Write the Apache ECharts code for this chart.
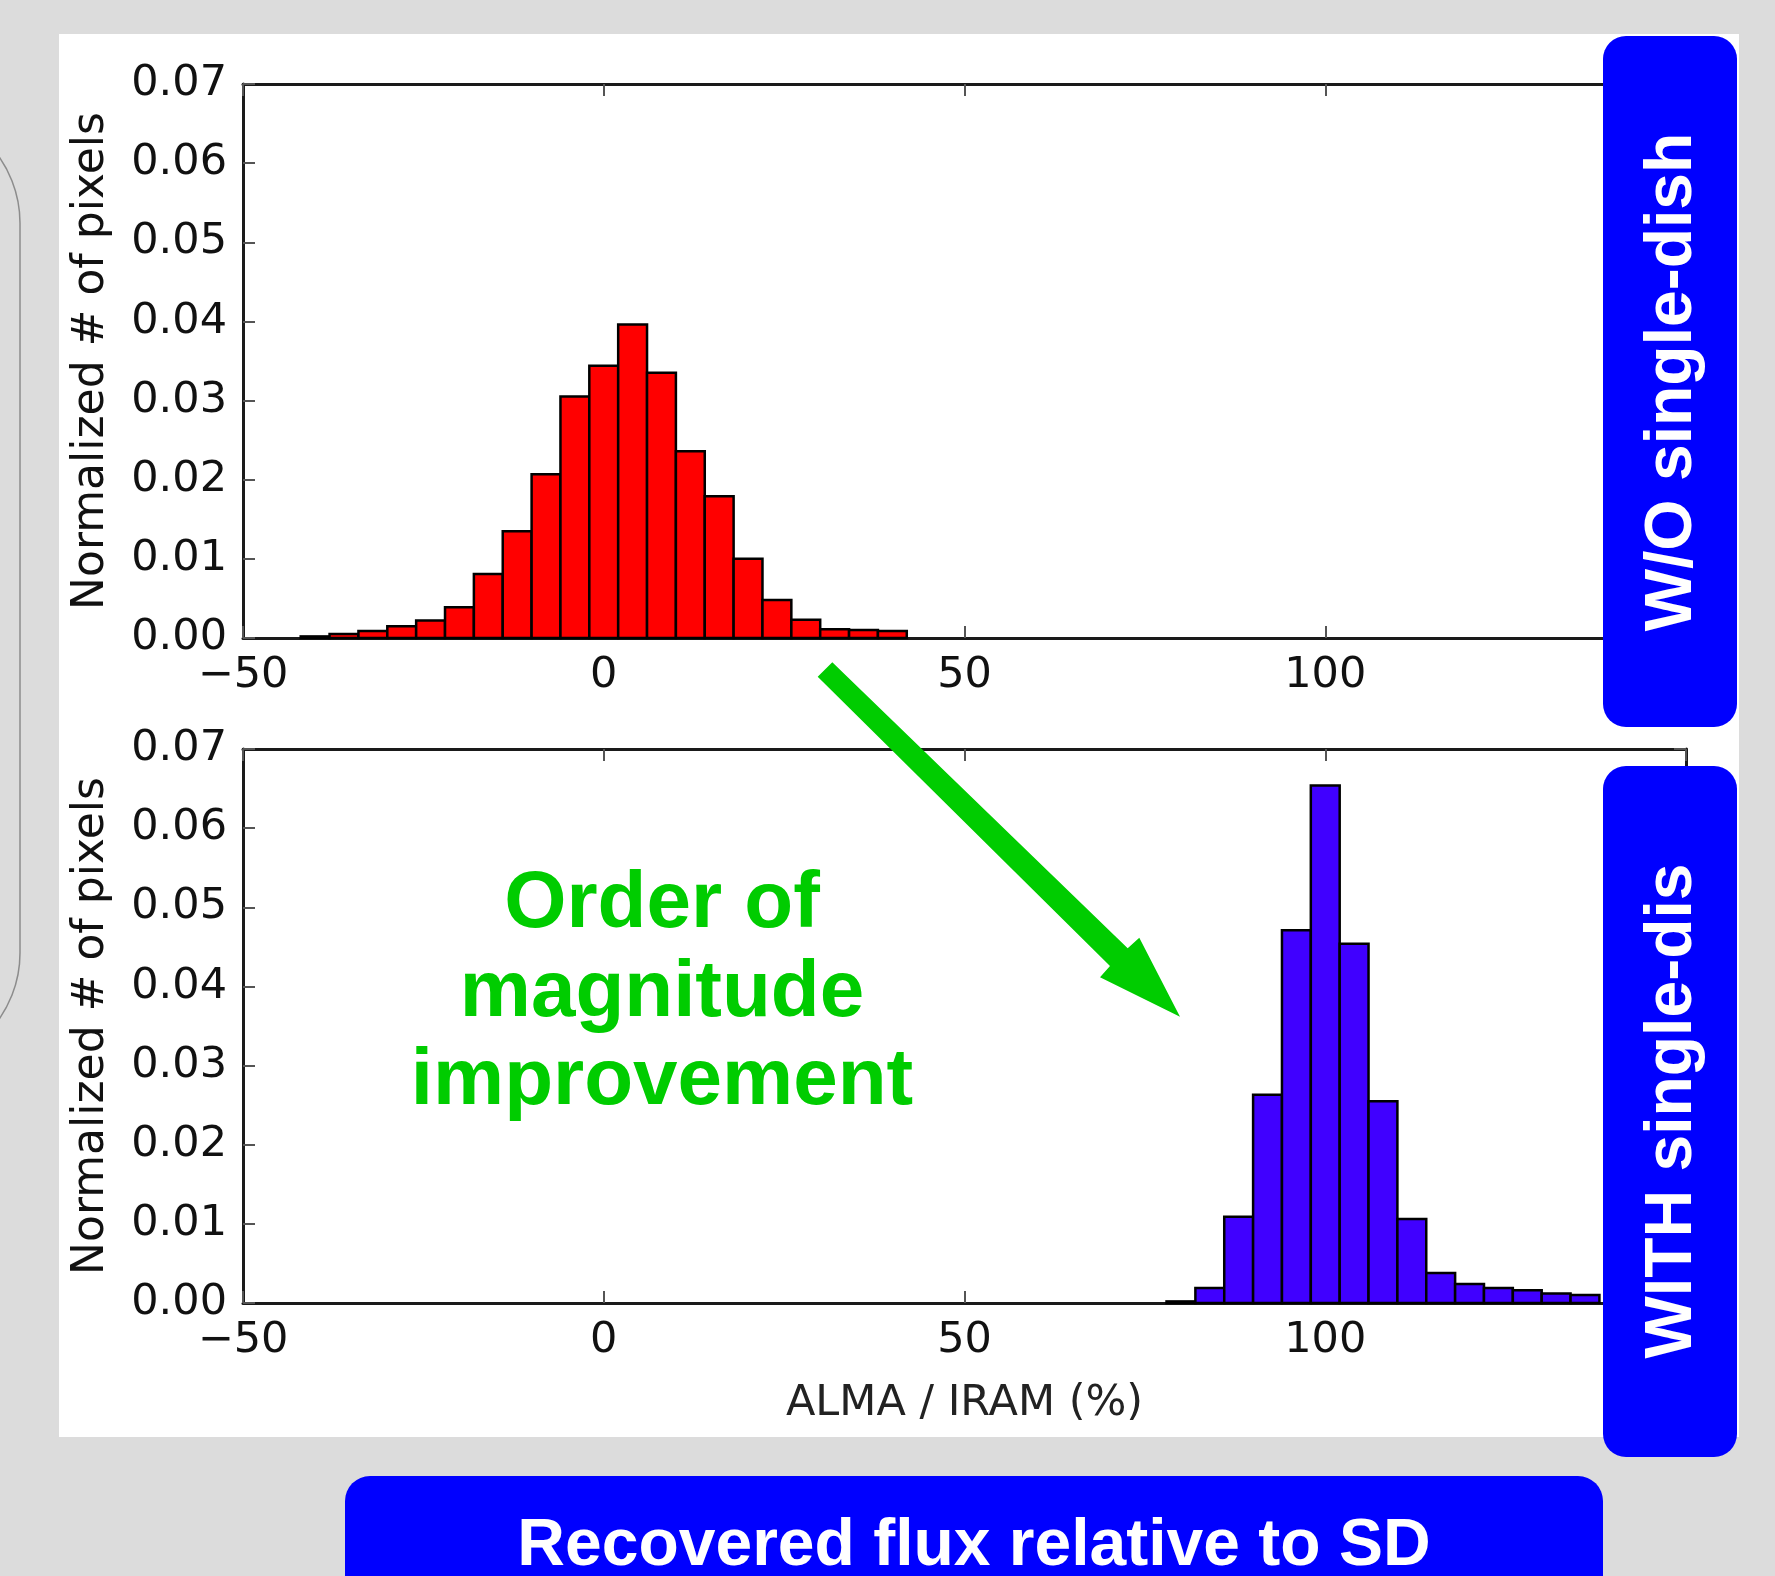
<!DOCTYPE html>
<html>
<head>
<meta charset="utf-8">
<title>Recovered flux relative to SD</title>
<script src="https://cdn.jsdelivr.net/npm/echarts@6/dist/echarts.min.js"></script>
<style>
  html, body { margin: 0; padding: 0; background: #dcdcdc; }
  #main { width: 1775px; height: 1576px; }
</style>
</head>
<body>
<div id="main"></div>
<script>
// histogram bins (bin centres, % ) and normalized counts
var binWidth = 4;
var woCenters = [-40, -36, -32, -28, -24, -20, -16, -12, -8, -4, 0, 4, 8, 12, 16, 20, 24, 28, 32, 36, 40];
var woValues = [0.0002, 0.0005, 0.0009, 0.0015, 0.0022, 0.0039, 0.0081, 0.0135, 0.0207, 0.0305, 0.0344,
                0.0396, 0.0335, 0.0236, 0.0179, 0.0100, 0.0048, 0.0023, 0.0011, 0.0010, 0.0009];
var withCenters = [80, 84, 88, 92, 96, 100, 104, 108, 112, 116, 120, 124, 128, 132, 136];
var withValues = [0.0002, 0.0019, 0.0109, 0.0263, 0.0471, 0.0654, 0.0454, 0.0255, 0.0106,
                  0.0038, 0.0024, 0.0019, 0.0016, 0.0012, 0.0010];

var xTicks = [-50, 0, 50, 100, 150];
var yTicks = [0, 0.01, 0.02, 0.03, 0.04, 0.05, 0.06, 0.07];

var yName = 'Normalized # of pixels';
var xName = 'ALMA / IRAM (%)';
var boxTop = 'W/O single-dish';
var boxBottom = 'WITH single-dis';
var banner = 'Recovered flux relative to SD';
var note = ['Order of', 'magnitude', 'improvement'];

function zip(a, b) {
    var out = [];
    for (var i = 0; i < a.length; i++) out.push([a[i], b[i]]);
    return out;
}

var myChart = echarts.init(document.getElementById('main'));

var tickFont = { fontFamily: 'DejaVu Sans', fontSize: 43, color: '#111' };
var frameLine = { show: true, onZero: false, lineStyle: { color: '#1a1a1a', width: 3 } };
var innerTick = { show: true, inside: true, length: 12, lineStyle: { color: '#555', width: 2 } };

function xAxisPair(gridIndex, withName) {
    var bottom = {
        type: 'value', gridIndex: gridIndex, position: 'bottom',
        min: xTicks[0], max: xTicks[xTicks.length - 1], interval: 50,
        axisLine: frameLine, axisTick: innerTick, splitLine: { show: false },
        axisLabel: {
            margin: 16, fontFamily: tickFont.fontFamily, fontSize: tickFont.fontSize, color: tickFont.color,
            formatter: function (v) {
                if (v >= 150) return '';
                return v < 0 ? '\u2212' + Math.abs(v) : String(v);
            }
        }
    };
    if (withName) {
        bottom.name = xName;
        bottom.nameLocation = 'middle';
        bottom.nameGap = 79;
        bottom.nameTextStyle = { fontFamily: 'DejaVu Sans', fontSize: 43, color: '#222' };
    }
    var top = {
        type: 'value', gridIndex: gridIndex, position: 'top',
        min: xTicks[0], max: xTicks[xTicks.length - 1], interval: 50,
        axisLine: frameLine, axisTick: innerTick, splitLine: { show: false },
        axisLabel: { show: false }
    };
    return [bottom, top];
}

function yAxisPair(gridIndex) {
    var left = {
        type: 'value', gridIndex: gridIndex, position: 'left',
        min: 0, max: yTicks[yTicks.length - 1], interval: 0.01,
        name: yName, nameLocation: 'middle', nameGap: 129,
        nameTextStyle: { fontFamily: 'DejaVu Sans', fontSize: 44, color: '#111' },
        axisLine: frameLine, axisTick: innerTick, splitLine: { show: false },
        axisLabel: {
            margin: 16, fontFamily: tickFont.fontFamily, fontSize: tickFont.fontSize, color: tickFont.color,
            formatter: function (v) { return v.toFixed(2); }
        }
    };
    var right = {
        type: 'value', gridIndex: gridIndex, position: 'right',
        min: 0, max: yTicks[yTicks.length - 1], interval: 0.01,
        axisLine: frameLine, axisTick: innerTick, splitLine: { show: false },
        axisLabel: { show: false }
    };
    return [left, right];
}

function histRender(fill) {
    return function (params, api) {
        var c = api.value(0);
        var v = api.value(1);
        var p0 = api.coord([c - binWidth / 2, v]);
        var p1 = api.coord([c + binWidth / 2, 0]);
        return {
            type: 'rect',
            shape: { x: p0[0], y: p0[1], width: p1[0] - p0[0], height: p1[1] - p0[1] },
            style: { fill: fill, stroke: '#000', lineWidth: 2.5 }
        };
    };
}

var xs = xAxisPair(0, false).concat(xAxisPair(1, true));
var ys = yAxisPair(0).concat(yAxisPair(1));

var boldFont = 'bold 66px "Liberation Sans", Arial, sans-serif';
var greenFont = 'bold 80px "Liberation Sans", Arial, sans-serif';

var option = {
    backgroundColor: '#ffffff',
    animation: false,
    grid: [
        { left: 243, top: 84, width: 1443, height: 554, outerBoundsMode: 'none' },
        { left: 243, top: 749, width: 1443, height: 554, outerBoundsMode: 'none' }
    ],
    xAxis: xs,
    yAxis: ys,
    series: [
        {
            name: 'W/O', type: 'custom', xAxisIndex: 0, yAxisIndex: 0,
            renderItem: histRender('#ff0000'), data: zip(woCenters, woValues)
        },
        {
            name: 'WITH', type: 'custom', xAxisIndex: 2, yAxisIndex: 2,
            renderItem: histRender('#4000ff'), data: zip(withCenters, withValues)
        }
    ],
    graphic: [
        // slide background around the white figure
        { type: 'rect', z: 100, shape: { x: 0, y: 0, width: 1775, height: 34 }, style: { fill: '#dcdcdc' } },
        { type: 'rect', z: 100, shape: { x: 0, y: 0, width: 59, height: 1576 }, style: { fill: '#dcdcdc' } },
        { type: 'rect', z: 100, shape: { x: 1739, y: 0, width: 36, height: 1576 }, style: { fill: '#dcdcdc' } },
        { type: 'rect', z: 100, shape: { x: 0, y: 1437, width: 1775, height: 139 }, style: { fill: '#dcdcdc' } },
        { type: 'rect', z: 101, shape: { x: -400, y: 108, width: 420, height: 960, r: 115 },
          style: { fill: 'none', stroke: '#8c8c8c', lineWidth: 1.5 } },

        // side labels
        { type: 'rect', z: 102, shape: { x: 1603, y: 36, width: 134, height: 691, r: 23 }, style: { fill: '#0000ff' } },
        { type: 'rect', z: 102, shape: { x: 1603, y: 766, width: 134, height: 691, r: 23 }, style: { fill: '#0000ff' } },
        { type: 'text', z: 103, x: 1673, y: 382, rotation: Math.PI / 2,
          style: { text: boxTop, font: boldFont, fill: '#ffffff', align: 'center', verticalAlign: 'middle' } },
        { type: 'text', z: 103, x: 1673, y: 1111, rotation: Math.PI / 2,
          style: { text: boxBottom, font: boldFont, fill: '#ffffff', align: 'center', verticalAlign: 'middle' } },

        // bottom banner
        { type: 'rect', z: 102, shape: { x: 345, y: 1476, width: 1258, height: 160, r: 25 }, style: { fill: '#0000ff' } },
        { type: 'text', z: 103, x: 974, y: 1514,
          style: { text: banner, font: boldFont, fill: '#ffffff', align: 'center', verticalAlign: 'top' } },

        // green annotation
        { type: 'polygon', z: 104,
          shape: { points: [[817.7, 676.7], [832.3, 662.3], [1127.7, 948.3], [1139.3, 937.7],
                            [1180, 1016.7], [1100, 977.3], [1110, 966]] },
          style: { fill: '#00cc00' } },
        { type: 'text', z: 104, x: 662, y: 865,
          style: { text: note[0], font: greenFont, fill: '#00cc00', align: 'center', verticalAlign: 'top' } },
        { type: 'text', z: 104, x: 662, y: 954,
          style: { text: note[1], font: greenFont, fill: '#00cc00', align: 'center', verticalAlign: 'top' } },
        { type: 'text', z: 104, x: 662, y: 1042,
          style: { text: note[2], font: greenFont, fill: '#00cc00', align: 'center', verticalAlign: 'top' } }
    ]
};

myChart.setOption(option);

window.onresize = function () {
    myChart.resize();
};
</script>
</body>
</html>
